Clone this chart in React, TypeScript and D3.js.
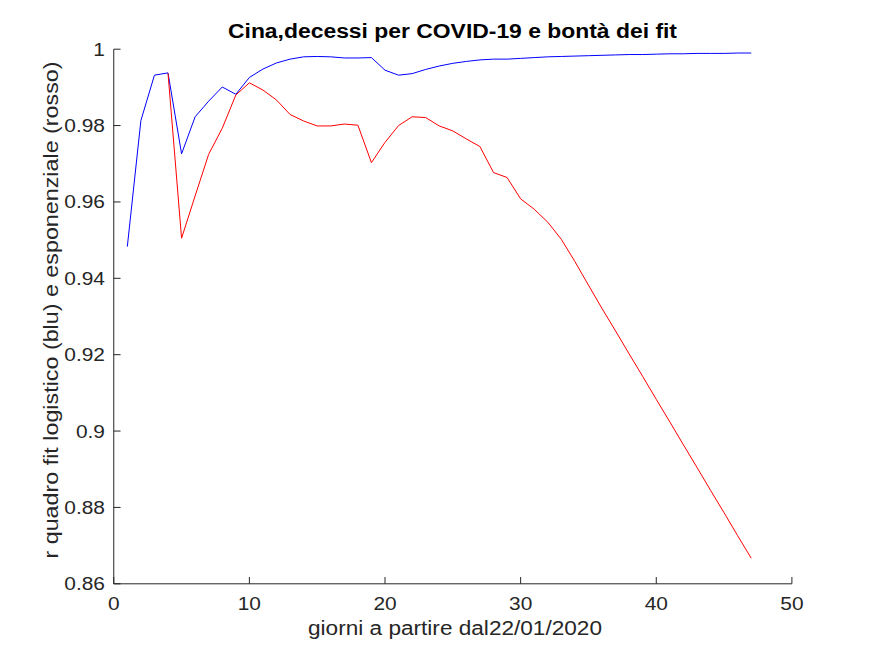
import React, { useEffect, useRef } from "react";
import * as d3 from "d3";

const daysBlue = [1,2,3,4,5,6,7,8,9,10,11,12,13,14,15,16,17,18,19,20,21,22,23,24,25,26,27,28,29,30,31,32,33,34,35,36,37,38,39,40,41,42,43,44,45,46,47];
const logisticR2 = [0.9483,0.9813,0.9932,0.9938,0.9726,0.9823,0.9864,0.9901,0.9882,0.9926,0.9948,0.9964,0.9974,0.998,0.9981,0.998,0.9977,0.9977,0.9978,0.9945,0.9932,0.9936,0.9947,0.9956,0.9963,0.9968,0.9972,0.9974,0.9974,0.9976,0.9978,0.998,0.9981,0.9982,0.9983,0.9984,0.9985,0.9986,0.9986,0.9987,0.9988,0.9988,0.9989,0.9989,0.9989,0.999,0.999];
const daysRed = [4,5,6,7,8,9,10,11,12,13,14,15,16,17,18,19,20,21,22,23,24,25,26,27,28,29,30,31,32,33,34,35,36,37,38,39,40,41,42,43,44,45,46,47];
const exponentialR2 = [0.9937,0.9505,0.9616,0.9725,0.9793,0.988,0.9912,0.9893,0.9867,0.9829,0.9812,0.9799,0.9799,0.9804,0.9801,0.9703,0.9756,0.98,0.9823,0.9821,0.9799,0.9786,0.9765,0.9745,0.9677,0.9664,0.9608,0.9581,0.9547,0.9502,0.9444,0.9382,0.9321,0.9262,0.9202,0.9143,0.9083,0.9024,0.8964,0.8905,0.8845,0.8786,0.8726,0.8667];
const xTicks = [0,10,20,30,40,50];
const yTicks = [0.86,0.88,0.9,0.92,0.94,0.96,0.98,1];

const titleText = "Cina,decessi per COVID-19 e bontà dei fit";
const xLabelText = "giorni a partire dal22/01/2020";
const yLabelText = "r quadro fit logistico (blu) e esponenziale (rosso)";

const W = 875, H = 656;
const L = 113.75, R = 791.9, T = 49.2, B = 583.8;
const FONT = "'Liberation Sans', Arial, Helvetica, sans-serif";
const AX = "#262626";

export default function App() {
  const ref = useRef<SVGSVGElement>(null);
  const x = d3.scaleLinear().domain([0, 50]).range([L, R]);
  const y = d3.scaleLinear().domain([0.86, 1]).range([B, T]);
  const line = d3.line<[number, number]>().x(d => x(d[0])).y(d => y(d[1]));
  const blueD = line(daysBlue.map((d, i) => [d, logisticR2[i]] as [number, number]));
  const redD = line(daysRed.map((d, i) => [d, exponentialR2[i]] as [number, number]));

  useEffect(() => {
    if (!ref.current) return;
    d3.select(ref.current).selectAll<SVGTextElement, unknown>("text.tick").each(function () {
      const len = this.getComputedTextLength();
      this.setAttribute("textLength", String(len * 1.16));
      this.setAttribute("lengthAdjust", "spacingAndGlyphs");
    });
  }, []);

  const tl = 6.8;
  return (
    <svg ref={ref} width={W} height={H} style={{ position: "absolute", left: 0, top: 0, background: "#fff" }} fontFamily={FONT}>
      <rect x={0} y={0} width={W} height={H} fill="#fff" />
      <path d={blueD || ""} fill="none" stroke="#0000ff" strokeWidth={1} />
      <path d={redD || ""} fill="none" stroke="#ff0000" strokeWidth={1} />
      {/* axes */}
      <line x1={L} x2={R} y1={B} y2={B} stroke={AX} strokeWidth={1} />
      <line x1={L} x2={L} y1={T} y2={B} stroke={AX} strokeWidth={1} />
      {xTicks.map(t => (
        <g key={"x" + t}>
          <line x1={x(t)} x2={x(t)} y1={B} y2={B - tl} stroke={AX} strokeWidth={1} />
          <text className="tick" x={x(t)} y={610} textAnchor="middle" fontSize={18} fill={AX}>{t}</text>
        </g>
      ))}
      {yTicks.map(t => (
        <g key={"y" + t}>
          <line x1={L} x2={L + tl} y1={y(t)} y2={y(t)} stroke={AX} strokeWidth={1} />
          <text className="tick" x={105} y={y(t) + 6.5} textAnchor="end" fontSize={18} fill={AX}>{String(t)}</text>
        </g>
      ))}
      <text x={452.5} y={37.7} textAnchor="middle" fontSize={19.5} fontWeight="bold" fill="#000" textLength={449} lengthAdjust="spacingAndGlyphs">{titleText}</text>
      <text x={455} y={635} textAnchor="middle" fontSize={19.5} fill={AX} textLength={294} lengthAdjust="spacingAndGlyphs">{xLabelText}</text>
      <text transform={`translate(58,310) rotate(-90)`} textAnchor="middle" fontSize={19.5} fill={AX} textLength={497} lengthAdjust="spacingAndGlyphs">{yLabelText}</text>
    </svg>
  );
}
